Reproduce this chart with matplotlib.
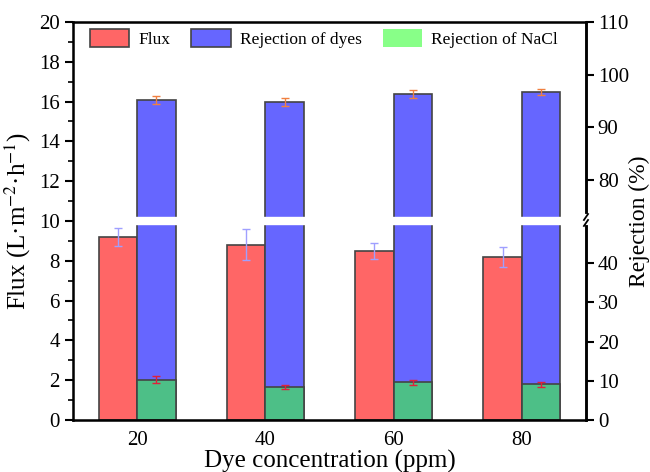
import numpy as np
import matplotlib
matplotlib.use("Agg")
import matplotlib.pyplot as plt
from matplotlib.patches import Patch

plt.rcParams['font.family'] = ['Liberation Serif', 'DejaVu Serif']
plt.rcParams['mathtext.fontset'] = 'stix'

conc = [20, 40, 60, 80]
flux = [9.2, 8.8, 8.5, 8.2]
flux_err = [0.45, 0.78, 0.4, 0.5]
rej_dye = [95.2, 94.9, 96.3, 96.7]
rej_dye_err = [0.7, 0.75, 0.75, 0.5]
rej_nacl = [10.3, 8.5, 9.6, 9.1]
rej_nacl_err = [0.85, 0.5, 0.6, 0.6]
rej_ticks = [0, 10, 20, 30, 40, 80, 90, 100, 110]


def rej_to_flux(r):
    # broken right axis: 0-50 -> 0-10 on left, 72.5-110 -> 10-20
    r = np.asarray(r, dtype=float)
    return np.where(r <= 55, r * 0.197, 12.06 + (r - 80) / 3.78)


fig = plt.figure(figsize=(6.5, 4.72), dpi=100)
ax = fig.add_axes([0.1123, 0.1102, 0.7892, 0.8432])
x = np.array(conc, dtype=float)
w = 6

ax.bar(x - w / 2, flux, w, color='#ff6666', edgecolor='#444444', linewidth=1.2, zorder=1)
ax.errorbar(x - w / 2, flux, yerr=flux_err, fmt='none', ecolor='#9f9fff',
            elinewidth=1, capsize=3, capthick=1, zorder=3)

ax.bar(x + w / 2, rej_to_flux(rej_dye), w, color='#6666ff', edgecolor='#444444',
       linewidth=1.2, zorder=1)
ax.errorbar(x + w / 2, rej_to_flux(rej_dye), yerr=np.array(rej_dye_err) / 3.78,
            fmt='none', ecolor='#f08040', elinewidth=1, capsize=3, capthick=1, zorder=3)

ax.bar(x + w / 2, rej_to_flux(rej_nacl), w, color='#4dbf87', edgecolor='#444444',
       linewidth=1.2, zorder=1.5)
ax.errorbar(x + w / 2, rej_to_flux(rej_nacl), yerr=np.array(rej_nacl_err) * 0.197,
            fmt='none', ecolor='#e0203a', elinewidth=1, capsize=3, capthick=1, zorder=3)

# axis break band
ax.axhspan(9.85, 10.2, color='white', zorder=2)

ax.set_xlim(10, 90)
ax.set_ylim(0, 20)
ax.set_xticks(conc)
ax.set_yticks(np.arange(0, 21, 2))
ax.set_yticks(np.arange(1, 20, 2), minor=True)
ax.tick_params(axis='y', which='major', direction='out', length=6, width=1.5, labelsize=15)
ax.tick_params(axis='y', which='minor', direction='out', length=3.5, width=1.2)
ax.tick_params(axis='x', length=0, labelsize=15, pad=8)
for s in ax.spines.values():
    s.set_linewidth(1.8)

ax.set_ylabel('Flux (L·m$^{-2}$·h$^{-1}$)', fontsize=18, labelpad=4)
ax.set_xlabel('Dye concentration (ppm)', fontsize=18, labelpad=0)

ax2 = ax.twinx()
ax2.set_ylim(0, 20)
ax2.set_yticks(rej_to_flux(rej_ticks))
ax2.set_yticklabels([str(t) for t in rej_ticks])
ax2.tick_params(axis='y', direction='out', length=6, width=1.5, labelsize=15, pad=2.5)
ax2.spines['right'].set_linewidth(1.8)
ax2.set_ylabel('Rejection (%)', fontsize=17, labelpad=0)

# break mark on right spine
trans = ax2.get_yaxis_transform()
ax2.plot([1, 1], [9.9, 10.25], transform=trans, color='white', lw=3, clip_on=False, zorder=5)
ax2.plot([0.996, 1.004], [9.75, 10.05], transform=trans, color='black', lw=1.3, clip_on=False, zorder=6)
ax2.plot([0.996, 1.004], [10.05, 10.35], transform=trans, color='black', lw=1.3, clip_on=False, zorder=6)

handles = [Patch(facecolor='#ff6666', edgecolor='#444444', linewidth=1.2),
           Patch(facecolor='#6666ff', edgecolor='#444444', linewidth=1.2),
           Patch(facecolor='#88ff88', edgecolor='none')]
ax.legend(handles, ['Flux', 'Rejection of dyes', 'Rejection of NaCl'], ncol=3,
          loc='upper left', bbox_to_anchor=(17 / 513, 1 - 7 / 398), frameon=False,
          fontsize=12.5, borderaxespad=0, borderpad=0,
          handlelength=2.25, handleheight=1.2, columnspacing=1.2, handletextpad=0.55)

fig.savefig('out.png', dpi=100)
